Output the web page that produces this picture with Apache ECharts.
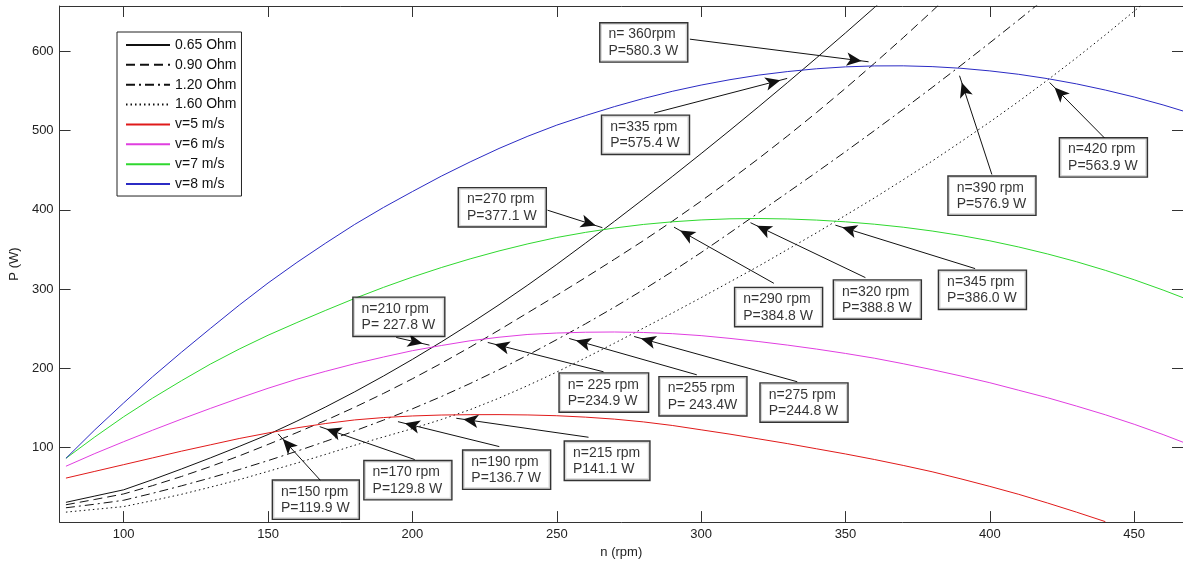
<!DOCTYPE html>
<html><head><meta charset="utf-8">
<script src="https://cdn.jsdelivr.net/npm/echarts@6/dist/echarts.min.js"></script>
<style>html,body{margin:0;padding:0;background:#fff}#c{width:1183px;height:564px}</style>
</head><body><div id="c"></div>
<script>
// ---- data ----
const rpm = [80,90,100,110,120,130,140,150,160,170,180,190,200,210,220,230,240,250,260,270,280,290,300,310,320,330,340,350,360,370,380,390,400,410,420,430,440,450,460,470];
const p065 = [30.4,38.3,46.2,59,72.5,86.5,101,116,133,151,170,190,211,233,256,280,305,331,358,385.5,413.5,442,471,500.5,530.5,561,592,623.5,655.5,688];
const p090 = [27.3,34,41,51.5,63,75.5,89,103.5,118.5,134,150.5,168,186.5,206,226.5,248,270,292,314.5,337.5,361,385.5,411,437.5,465,493.5,523,553.5,585,617.5,651,685.5];
const p120 = [23.5,28,33,41.8,51.2,61.2,71.8,83.1,95,107.5,120.6,134.3,148.5,164,180.5,198,216.5,236,256,277,299,322,346,371,396.5,422,447.5,473.5,500,527,554.5,582.5,611,640,669.5];
const p160 = [18,21.5,25,32.5,40.5,49.5,59,69.5,80,91,102.5,113,123.5,135,147.5,162,178,195,213,231.5,250.5,269.5,289,309,329,350,371,393,415,438,461.5,486,511,537,564,592,621,651,682];
const pv5 = [61,69.5,78,86.5,95,103,111,118,124.5,130,134.5,137.5,139.5,140.7,141.1,141.2,140.8,139.8,138,135.5,132,127.5,122,116.5,110.5,104.5,98,91.5,84.5,77,69,60,50.5,40.5,29.5,18,6];
const pv6 = [76,92,107,121.5,135.5,149,162,174.5,186,196,205.5,214,222,228.5,234.5,239,242.5,244.3,245.3,245.6,245,243.5,241,237.5,233.5,229,224,218.5,212.5,205.5,198,190,181.5,172,162.5,152,141,129,116,102];
const pv7 = [86,113,138.5,162,184,205,224,241.5,257.5,273,288,302,315,327,338,348,357,365,371.5,377,381.5,384.8,387.2,388.6,389,388.4,387,384.8,381.8,378,373.2,367.5,360.8,353,344.2,334.4,323.5,311.6,298.6,284.6];
const pv8 = [86,122,156,189,220,250,279.5,307.5,333.5,358,381.5,403,423,442.5,460.5,477.5,493,507,519.1,530.4,540.6,549.7,557.6,564.4,570.2,574.7,578.2,580.6,581.8,581.9,580.9,578.8,575.5,571.2,565.7,559.1,551.3,542.5,532.5,521.4];

const seriesNames = ['0.65 Ohm','0.90 Ohm','1.20 Ohm','1.60 Ohm','v=5 m/s','v=6 m/s','v=7 m/s','v=8 m/s'];
const xTicks = [100,150,200,250,300,350,400,450];
const yTicks = [100,200,300,400,500,600];

const annoText = [
  'n= 360rpm\nP=580.3 W','n=335 rpm\nP=575.4 W','n=390 rpm\nP=576.9 W','n=420 rpm\nP=563.9 W',
  'n=270 rpm\nP=377.1 W','n=290 rpm\nP=384.8 W','n=320 rpm\nP=388.8 W','n=345 rpm\nP=386.0 W',
  'n=210 rpm\nP= 227.8 W','n= 225 rpm\nP=234.9 W','n=255 rpm\nP= 243.4W','n=275 rpm\nP=244.8 W',
  'n=150 rpm\nP=119.9 W','n=170 rpm\nP=129.8 W','n=190 rpm\nP=136.7 W','n=215 rpm\nP141.1 W'
];
const annoBoxN = [265.3,265.9,385.9,424.5,216.3,312.0,346.2,382.6,179.8,251.2,285.8,320.8,151.9,183.6,217.8,253.0];
const annoBoxP = [634.9,518.1,441.2,489.6,426.5,300.5,310.0,322.3,288.2,192.4,187.7,179.8,57.1,81.8,95.0,106.3];
const arrowTailN = [296.1,283.7,400.7,439.7,246.8,325.2,356.9,394.9,194.4,266.2,298.5,333.3,168.2,200.8,230.1,261.0];
const arrowTailP = [615.6,522.3,444.6,490.8,399.5,307.1,314.3,325.7,238.7,195.3,191.5,182.7,57.9,84.4,100.8,112.6];
const arrowHeadN = [358.0,329.8,389.5,420.7,265.8,290.6,317.1,346.5,205.9,226.1,254.3,276.8,153.5,167.9,195.0,215.2];
const arrowHeadP = [587.0,566.0,569.4,560.9,377.4,378.1,383.7,380.6,229.0,232.4,237.4,239.9,116.8,126.0,132.3,136.6];

// ---- chart ----
const FONT = "'Liberation Sans', Arial, sans-serif";
const AX = '#333';
const pairs = arr => arr.map((v, i) => [rpm[i], v]);

const curveStyles = [
  {color:'#111', type:'solid'},
  {color:'#111', type:[9,5]},
  {color:'#111', type:[9,4,2,4]},
  {color:'#111', type:[1.5,3]},
  {color:'#e01a1a', type:'solid'},
  {color:'#e03ee0', type:'solid'},
  {color:'#2fd82f', type:'solid'},
  {color:'#2b2bc4', type:'solid'}
];
const curveData = [p065,p090,p120,p160,pv5,pv6,pv7,pv8];

const lineSeries = curveData.map((arr, k) => ({
  type:'line', name: seriesNames[k], data: pairs(arr),
  symbol:'none', smooth:false, clip:true, z:2,
  lineStyle:{color: curveStyles[k].color, width:1, type: curveStyles[k].type},
  itemStyle:{color: curveStyles[k].color},
  emphasis:{disabled:true}
}));

const annoSeries = {
  type:'scatter', name:'annotations', z:10,
  symbolSize:1, itemStyle:{color:'rgba(0,0,0,0)'},
  data: annoBoxN.map((n, i) => [n, annoBoxP[i]]),
  label:{
    show:true, position:[0,0], align:'left', verticalAlign:'top',
    formatter: p => annoText[p.dataIndex],
    fontFamily: FONT, fontSize:14, color:'#000', lineHeight:16.5,
    backgroundColor:'#fff', borderColor:'#000', borderWidth:1.4,
    padding:[3,9,2,8]
  },
  emphasis:{disabled:true}, silent:true,
  markLine:{
    silent:true, animation:false,
    symbol:['none','arrow'],
    label:{show:false},
    lineStyle:{color:'#111', width:1, type:'solid'},
    emphasis:{disabled:true},
    data: arrowTailN.map((n, i) => [
      {coord:[n, arrowTailP[i]], symbol:'none'},
      {coord:[arrowHeadN[i], arrowHeadP[i]], symbol:'arrow', symbolSize:[10,15], symbolOffset:[0,7]}
    ])
  }
};

const xBase = {
  type:'value', min:77.8, max:466.9,
  axisLine:{show:true, onZero:false, lineStyle:{color:AX, width:1}},
  axisTick:{show:true, inside:true, length:11, customValues:xTicks, lineStyle:{color:AX}},
  splitLine:{show:false}
};
const yBase = {
  type:'value', min:5.4, max:657.5,
  axisLine:{show:true, onZero:false, lineStyle:{color:AX, width:1}},
  axisTick:{show:true, inside:true, length:11, customValues:yTicks, lineStyle:{color:AX}},
  splitLine:{show:false}
};

const option = {
  animation:false,
  backgroundColor:'#fff',
  textStyle:{fontFamily: FONT},
  grid:{left:59, right:-2, top:6, bottom:41, containLabel:false},
  legend:{
    data: seriesNames, orient:'vertical', left:117, top:32,
    itemWidth:44, itemHeight:14, itemGap:5.86,
    padding:[6,5,5,8], borderColor:'#222', borderWidth:1, backgroundColor:'#fff',
    textStyle:{fontSize:14, color:'#111', fontFamily: FONT},
    itemStyle:{opacity:0}, selectedMode:false
  },
  xAxis:[
    Object.assign({}, xBase, {position:'bottom',
      axisLabel:{show:true, customValues:xTicks, fontSize:13, color:'#222', margin:6, fontFamily: FONT},
      name:'n (rpm)', nameLocation:'middle', nameGap:22,
      nameTextStyle:{fontSize:13, color:'#222', fontFamily: FONT}}),
    Object.assign({}, xBase, {position:'top', axisLabel:{show:false}})
  ],
  yAxis:[
    Object.assign({}, yBase, {position:'left',
      axisLabel:{show:true, customValues:yTicks, fontSize:13, color:'#222', margin:6, fontFamily: FONT},
      name:'P (W)', nameLocation:'middle', nameGap:38,
      nameTextStyle:{fontSize:13, color:'#222', fontFamily: FONT}}),
    Object.assign({}, yBase, {position:'right', axisLabel:{show:false}})
  ],
  series: lineSeries.concat([annoSeries])
};

const chart = echarts.init(document.getElementById('c'));
chart.setOption(option);
</script>
</body></html>
